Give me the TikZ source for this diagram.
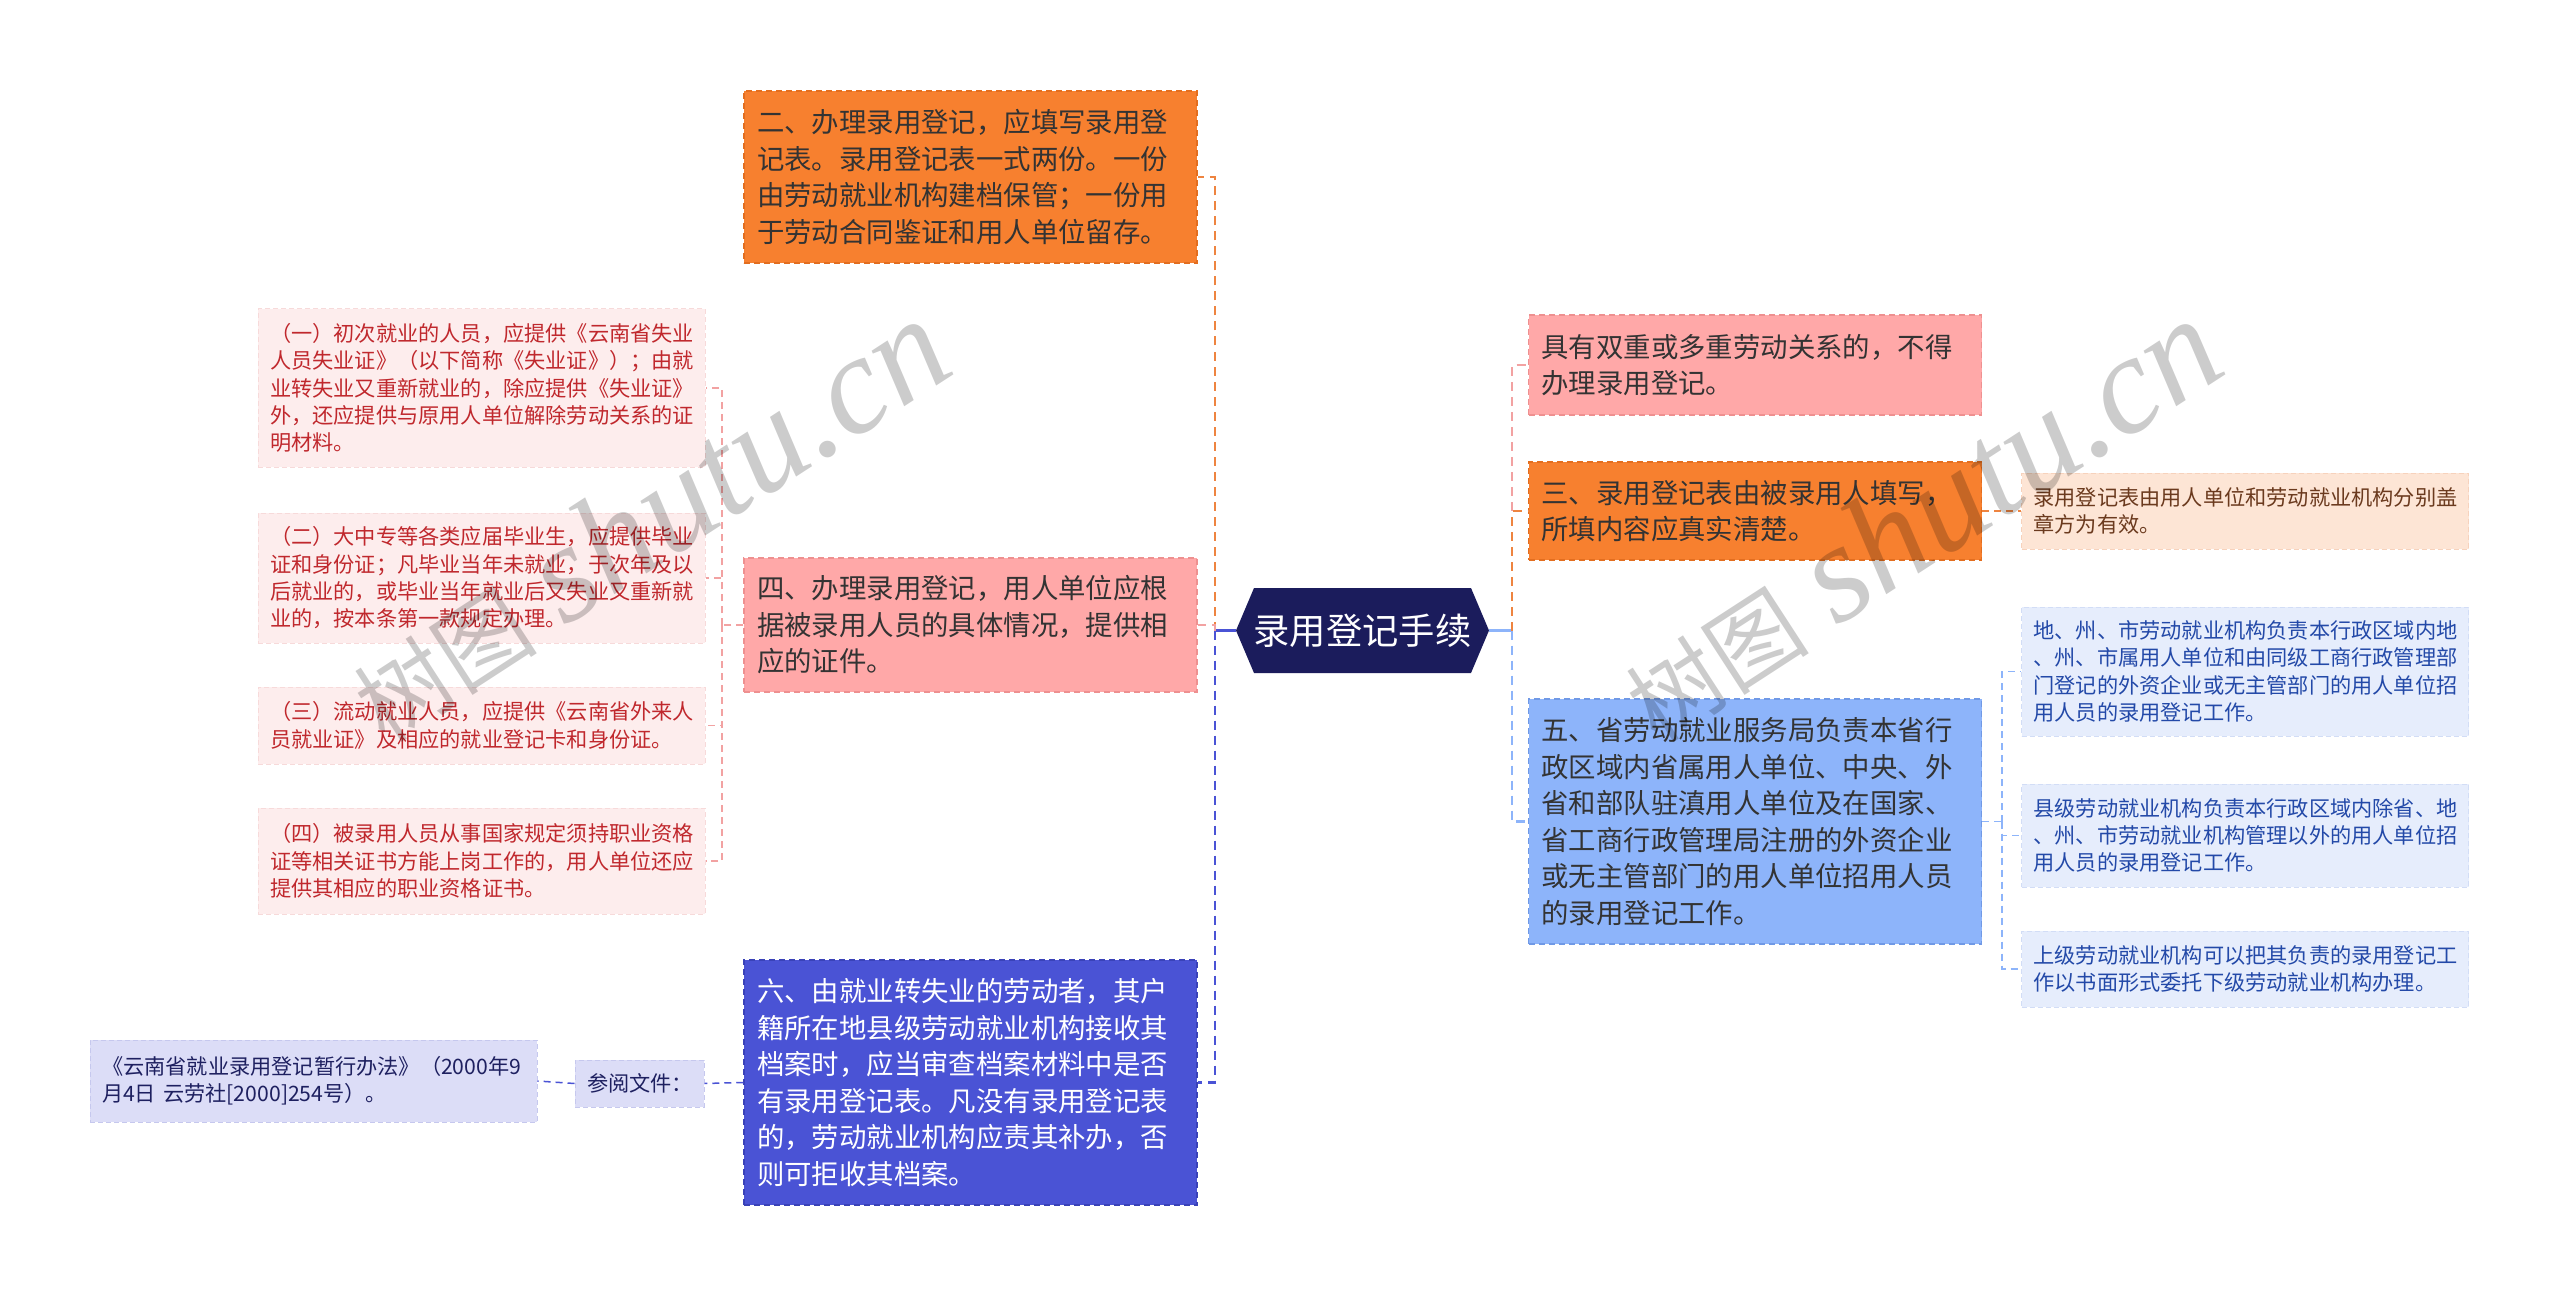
\documentclass[tikz,border=0pt]{standalone}
\usepackage{fontspec}
\newfontfamily\cjk{Noto Sans CJK SC}
\newfontfamily\wmserif{Liberation Serif}
\usetikzlibrary{calc}
\definecolor{cOr}{HTML}{F7802F}
\definecolor{cOrD}{HTML}{E36E1F}
\definecolor{cOrL}{HTML}{EE8440}
\definecolor{cPk}{HTML}{FFA8A8}
\definecolor{cPkD}{HTML}{EE9090}
\definecolor{cPkL}{HTML}{F2A2A2}
\definecolor{cBl}{HTML}{4A53D5}
\definecolor{cBlD}{HTML}{3A42B8}
\definecolor{cLB}{HTML}{8DB4FA}
\definecolor{cLBD}{HTML}{7099E6}
\definecolor{cNavy}{HTML}{1B1C5C}
\definecolor{cLeafPk}{HTML}{FDEDED}
\definecolor{cLeafPkD}{HTML}{F7DADA}
\definecolor{cLeafPkT}{HTML}{C0282D}
\definecolor{cPeach}{HTML}{FDE5D5}
\definecolor{cPeachD}{HTML}{F7D2BC}
\definecolor{cPeachT}{HTML}{6B3A1E}
\definecolor{cLeafBl}{HTML}{E6EDFC}
\definecolor{cLeafBlD}{HTML}{D2DDF6}
\definecolor{cLeafBlT}{HTML}{2349A8}
\definecolor{cLav}{HTML}{DCDDF7}
\definecolor{cLavD}{HTML}{C6C8EE}
\definecolor{cLavT}{HTML}{1E2060}
\definecolor{cTxt}{HTML}{333333}
\begin{document}
\begin{tikzpicture}[x=1pt,y=-1pt,
  mainbox/.style={inner xsep=13pt, inner ysep=0pt, align=left, text width=427pt,
    font=\cjk\fontsize{27.4}{36.5}\selectfont, dash pattern=on 6pt off 4pt, line width=1.5pt},
  leafbox/.style={inner xsep=12pt, inner ysep=0pt, align=left, text width=423pt,
    font=\cjk\fontsize{21.2}{27.3}\selectfont, dash pattern=on 5pt off 3pt, line width=1pt},
  conn/.style={line width=2.5pt, dash pattern=on 9pt off 6pt},
  leafconn/.style={line width=1.5pt, dash pattern=on 7pt off 5pt},
  watermark/.style={rotate=33, text=black, text opacity=0.2, inner sep=0pt}
]
\useasboundingbox (0,0) rectangle (2560,1297);
\fill[white] (0,0) rectangle (2560,1297);

% centre hexagon
\coordinate (ctrW) at (1236,630.5);
\coordinate (ctrE) at (1489,630.5);
\fill[cNavy] (ctrW) -- (1254,588) -- (1471,588) -- (ctrE) -- (1471,673) -- (1254,673) -- cycle;
\node[text=white, font=\cjk\fontsize{36.3}{40}\selectfont, inner sep=0pt] (ctr) at (1362.5,630.5) {录用登记手续};

% left main boxes
\node[mainbox, fill=cOr, draw=cOrD, text=cTxt, minimum height=172pt] (b2) at (970.5,177) {二、办理录用登记，应填写录用登\\记表。录用登记表一式两份。一份\\由劳动就业机构建档保管；一份用\\于劳动合同鉴证和用人单位留存。};
\node[mainbox, fill=cPk, draw=cPkD, text=cTxt, minimum height=134pt] (b4) at (970.5,625) {四、办理录用登记，用人单位应根\\据被录用人员的具体情况，提供相\\应的证件。};
\node[mainbox, fill=cBl, draw=cBlD, text=white, minimum height=245pt] (b6) at (970.5,1082.5) {六、由就业转失业的劳动者，其户\\籍所在地县级劳动就业机构接收其\\档案时，应当审查档案材料中是否\\有录用登记表。凡没有录用登记表\\的，劳动就业机构应责其补办，否\\则可拒收其档案。};

% left leaves
\node[leafbox, fill=cLeafPk, draw=cLeafPkD, text=cLeafPkT, minimum height=158pt] (l1) at (481.5,388) {（一）初次就业的人员，应提供《云南省失业\\人员失业证》（以下简称《失业证》）；由就\\业转失业又重新就业的，除应提供《失业证》\\外，还应提供与原用人单位解除劳动关系的证\\明材料。};
\node[leafbox, fill=cLeafPk, draw=cLeafPkD, text=cLeafPkT, minimum height=130pt] (l2) at (481.5,578) {（二）大中专等各类应届毕业生，应提供毕业\\证和身份证；凡毕业当年未就业，于次年及以\\后就业的，或毕业当年就业后又失业又重新就\\业的，按本条第一款规定办理。};
\node[leafbox, fill=cLeafPk, draw=cLeafPkD, text=cLeafPkT, minimum height=77pt] (l3) at (481.5,725.5) {（三）流动就业人员，应提供《云南省外来人\\员就业证》及相应的就业登记卡和身份证。};
\node[leafbox, fill=cLeafPk, draw=cLeafPkD, text=cLeafPkT, minimum height=106pt] (l4) at (481.5,861) {（四）被录用人员从事国家规定须持职业资格\\证等相关证书方能上岗工作的，用人单位还应\\提供其相应的职业资格证书。};

% reference documents
\node[leafbox, text width=105pt, fill=cLav, draw=cLavD, text=cLavT, minimum height=47pt] (ref) at (639.5,1083.5) {参阅文件：};
\node[leafbox, fill=cLav, draw=cLavD, text=cLavT, minimum height=82pt] (doc) at (313.5,1081) {《云南省就业录用登记暂行办法》（2000年9\\月4日 云劳社[2000]254号）。};

% right main boxes
\node[mainbox, fill=cPk, draw=cPkD, text=cTxt, minimum height=100pt] (r1) at (1755,365) {具有双重或多重劳动关系的，不得\\办理录用登记。};
\node[mainbox, fill=cOr, draw=cOrD, text=cTxt, minimum height=98pt] (r3) at (1755,511) {三、录用登记表由被录用人填写，\\所填内容应真实清楚。};
\node[mainbox, fill=cLB, draw=cLBD, text=cTxt, minimum height=245pt] (r5) at (1755,821.5) {五、省劳动就业服务局负责本省行\\政区域内省属用人单位、中央、外\\省和部队驻滇用人单位及在国家、\\省工商行政管理局注册的外资企业\\或无主管部门的用人单位招用人员\\的录用登记工作。};

% right leaves
\node[leafbox, fill=cPeach, draw=cPeachD, text=cPeachT, minimum height=76pt] (pe) at (2245,511) {录用登记表由用人单位和劳动就业机构分别盖\\章方为有效。};
\node[leafbox, fill=cLeafBl, draw=cLeafBlD, text=cLeafBlT, minimum height=129pt] (q1) at (2245,671.5) {地、州、市劳动就业机构负责本行政区域内地\\、州、市属用人单位和由同级工商行政管理部\\门登记的外资企业或无主管部门的用人单位招\\用人员的录用登记工作。};
\node[leafbox, fill=cLeafBl, draw=cLeafBlD, text=cLeafBlT, minimum height=103pt] (q2) at (2245,835.5) {县级劳动就业机构负责本行政区域内除省、地\\、州、市劳动就业机构管理以外的用人单位招\\用人员的录用登记工作。};
\node[leafbox, fill=cLeafBl, draw=cLeafBlD, text=cLeafBlT, minimum height=76pt] (q3) at (2245,969) {上级劳动就业机构可以把其负责的录用登记工\\作以书面形式委托下级劳动就业机构办理。};

% connectors: centre to left
\coordinate (jl) at (1215,630.5);
\draw[cBl, line width=2.5pt] (ctrW) -- (jl);
\draw[conn, cOrL] (jl) |- (b2.east);
\draw[conn, cPkL] (jl) |- (b4.east);
\draw[conn, cBl] (jl) |- (b6.east);
% centre to right
\coordinate (jr) at (1512,630.5);
\draw[cLB, line width=2.5pt] (ctrE) -- (jr);
\draw[conn, cPkL] (jr) |- (r1.west);
\draw[conn, cOrL] (jr) |- (r3.west);
\draw[conn, cLB] (jr) |- (r5.west);
% b4 to its leaves
\coordinate (tl) at (722,625);
\draw[leafconn, cPkL] (b4.west) -- (tl);
\draw[leafconn, cPkL] (tl) |- (l1.east);
\draw[leafconn, cPkL] (tl) |- (l2.east);
\draw[leafconn, cPkL] (tl) |- (l3.east);
\draw[leafconn, cPkL] (tl) |- (l4.east);
% b6 to references
\draw[leafconn, cBl] (b6.west) -- (ref.east);
\draw[leafconn, cBl] (ref.west) -- (doc.east);
% r3 to peach
\draw[leafconn, cOrL] (r3.east) -- (pe.west);
% r5 to its leaves
\coordinate (tr) at (2002,821.5);
\draw[leafconn, cLB] (r5.east) -- (tr);
\draw[leafconn, cLB] (tr) |- (q1.west);
\draw[leafconn, cLB] (tr) |- (q2.west);
\draw[leafconn, cLB] (tr) |- (q3.west);

% watermarks
\node[watermark] (wm1) at (648,520) {\cjk\fontsize{92}{92}\selectfont 树图\hspace{30pt}\wmserif\itshape\fontsize{140}{140}\selectfont shutu.cn};
\node[watermark] (wm2) at (1920,520) {\cjk\fontsize{92}{92}\selectfont 树图\hspace{30pt}\wmserif\itshape\fontsize{140}{140}\selectfont shutu.cn};
\end{tikzpicture}
\end{document}
